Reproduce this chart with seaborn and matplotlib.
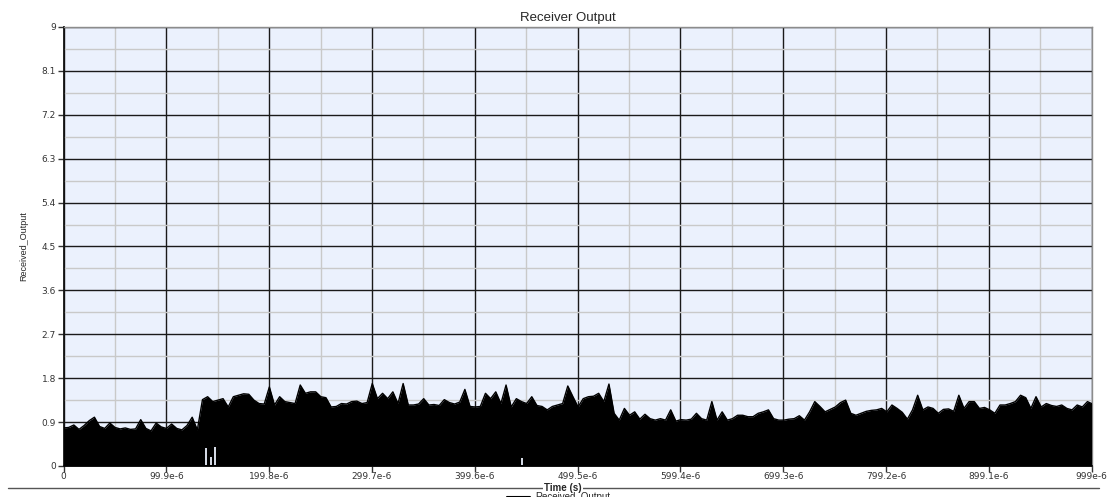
import numpy as np
import pandas as pd
import matplotlib
matplotlib.use("Agg")
import matplotlib.pyplot as plt
import seaborn as sns

# ---- data -------------------------------------------------------------
# sample times (s), one every 5 us, plus the final sample at 999 us
time_s = [k * 5e-6 for k in range(200)] + [999e-6]

# peak level of the received signal at each sample
received_peak = [
    0.78, 0.79, 0.84, 0.75, 0.83, 0.93, 1.00, 0.81, 0.77, 0.88,
    0.79, 0.76, 0.78, 0.75, 0.76, 0.95, 0.77, 0.72, 0.88, 0.80,
    0.77, 0.86, 0.77, 0.74, 0.83, 1.00, 0.74, 1.36, 1.42, 1.32,
    1.35, 1.38, 1.21, 1.42, 1.45, 1.48, 1.47, 1.35, 1.28, 1.27,
    1.62, 1.25, 1.42, 1.32, 1.30, 1.28, 1.66, 1.49, 1.52, 1.52,
    1.42, 1.40, 1.21, 1.22, 1.28, 1.27, 1.32, 1.33, 1.28, 1.30,
    1.69, 1.38, 1.49, 1.38, 1.52, 1.28, 1.69, 1.25, 1.25, 1.27,
    1.38, 1.25, 1.26, 1.24, 1.36, 1.30, 1.27, 1.31, 1.57, 1.22,
    1.21, 1.22, 1.49, 1.38, 1.52, 1.28, 1.66, 1.21, 1.38, 1.32,
    1.28, 1.42, 1.24, 1.22, 1.15, 1.22, 1.25, 1.28, 1.64, 1.42,
    1.21, 1.38, 1.42, 1.43, 1.49, 1.32, 1.68, 1.08, 0.94, 1.18,
    1.04, 1.11, 0.96, 1.06, 0.97, 0.94, 0.97, 0.94, 1.15, 0.92,
    0.95, 0.94, 0.96, 1.08, 0.97, 0.94, 1.32, 0.94, 1.11, 0.94,
    0.97, 1.04, 1.04, 1.01, 1.01, 1.08, 1.11, 1.15, 0.97, 0.94,
    0.94, 0.96, 0.97, 1.03, 0.94, 1.11, 1.32, 1.22, 1.11, 1.16,
    1.21, 1.30, 1.35, 1.08, 1.04, 1.08, 1.12, 1.14, 1.15, 1.18,
    1.11, 1.25, 1.18, 1.10, 0.96, 1.15, 1.45, 1.15, 1.21, 1.18,
    1.08, 1.16, 1.17, 1.12, 1.45, 1.18, 1.32, 1.32, 1.18, 1.20,
    1.15, 1.08, 1.25, 1.25, 1.28, 1.32, 1.45, 1.40, 1.18, 1.42,
    1.21, 1.28, 1.24, 1.22, 1.25, 1.18, 1.15, 1.25, 1.21, 1.32,
    1.28,
]

# short dropouts where the signal never reaches the floor
dropout_t = [138.8e-6, 143.6e-6, 147.5e-6, 445.5e-6]
dropout_lo = [0.02, 0.02, 0.02, 0.02]
dropout_hi = [0.36, 0.19, 0.38, 0.17]

y_ticks = [0, 0.9, 1.8, 2.7, 3.6, 4.5, 5.4, 6.3, 7.2, 8.1, 9]
y_labels = ["0", "0.9", "1.8", "2.7", "3.6", "4.5", "5.4", "6.3", "7.2", "8.1", "9"]
x_ticks = [0, 99.9e-6, 199.8e-6, 299.7e-6, 399.6e-6, 499.5e-6,
           599.4e-6, 699.3e-6, 799.2e-6, 899.1e-6, 999e-6]
x_labels = ["0", "99.9e-6", "199.8e-6", "299.7e-6", "399.6e-6", "499.5e-6",
            "599.4e-6", "699.3e-6", "799.2e-6", "899.1e-6", "999e-6"]

df = pd.DataFrame({"Time (s)": time_s, "Received_Output": received_peak})

# ---- figure -----------------------------------------------------------
sns.set_theme(style="white")
plt.rcParams["font.family"] = ["DejaVu Sans"]

fig = plt.figure(figsize=(11.15, 4.97), dpi=100)
ax = fig.add_axes([0.057, 0.0624, 0.922, 0.8833])
bg = "#EBF1FD"
ax.set_facecolor(bg)

ax.fill_between(df["Time (s)"], 0, df["Received_Output"],
                color="black", linewidth=0, zorder=3)
sns.lineplot(data=df, x="Time (s)", y="Received_Output", ax=ax,
             color="black", linewidth=1.0,
             label="Received_Output", legend=False, zorder=4)
ax.vlines(dropout_t, dropout_lo, dropout_hi, color=bg, linewidth=1.3, zorder=5)

ax.set_xlim(0, 999e-6)
ax.set_ylim(0, 9)

# grid: dark major lines, light minor lines halfway between
ax.set_xticks(x_ticks)
ax.set_xticklabels(x_labels)
ax.set_yticks(y_ticks)
ax.set_yticklabels(y_labels)
ax.set_xticks([t + 49.95e-6 for t in x_ticks[:-1]], minor=True)
ax.set_yticks([v + 0.45 for v in y_ticks[:-1]], minor=True)
ax.grid(which="major", color="#1a1a1a", linewidth=1.0, zorder=1)
ax.grid(which="minor", color="#c9c9c9", linewidth=1.0, zorder=0)
ax.set_axisbelow(True)

ax.tick_params(axis="both", which="major", labelsize=6.5, labelcolor="#333333",
               color="#333333", length=4, width=1, direction="out",
               bottom=True, left=True, pad=1.5)
ax.tick_params(axis="x", which="major", pad=0.5)
ax.tick_params(axis="both", which="minor", length=0)

for side in ("left", "bottom"):
    ax.spines[side].set_color("#111111")
    ax.spines[side].set_linewidth(1.3)
for side in ("top", "right"):
    ax.spines[side].set_color("#8c8c8c")
    ax.spines[side].set_linewidth(1.0)

ax.set_xlabel("")
ax.set_ylabel("")

fig.text(0.509, 0.964, "Receiver Output", ha="center", va="center",
         fontsize=9.5, family=["Liberation Sans", "DejaVu Sans"])
fig.text(0.021, 0.505, "Received_Output", rotation=90, ha="center", va="center",
         fontsize=6.5, family=["Liberation Sans Narrow", "Liberation Sans", "DejaVu Sans"])

# separator line across the bottom, interrupted by the axis title
fig.add_artist(plt.Line2D([0.007, 0.986], [0.018, 0.018], color="#555555",
                          linewidth=1.0, transform=fig.transFigure))
fig.text(0.505, 0.019, "Time (s)", ha="center", va="center", fontsize=7,
         fontweight="bold", family=["Liberation Sans", "DejaVu Sans"],
         bbox=dict(facecolor="white", edgecolor="none", pad=0.8))

leg = fig.legend(loc="center", bbox_to_anchor=(0.501, 0.0), frameon=False,
                 handlelength=2.4, handletextpad=0.5,
                 prop={"family": ["Liberation Sans", "DejaVu Sans"], "size": 7})
for line in leg.get_lines():
    line.set_linewidth(1.5)

fig.savefig("out.png", dpi=100, facecolor="white")
